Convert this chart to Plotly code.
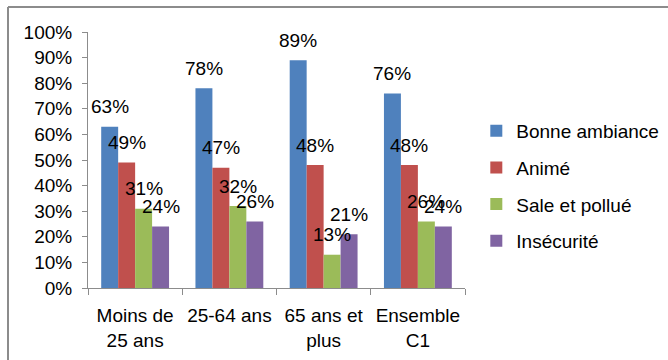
import plotly.graph_objects as go

categories = ["Moins de<br>25 ans", "25-64 ans", "65 ans et<br>plus", "Ensemble<br>C1"]
series_names = ["Bonne ambiance", "Animé", "Sale et pollué", "Insécurité"]
bonne_ambiance = [0.63, 0.78, 0.89, 0.76]
anime = [0.49, 0.47, 0.48, 0.48]
sale_pollue = [0.31, 0.32, 0.13, 0.26]
insecurite = [0.24, 0.26, 0.21, 0.24]
y_ticks = [0, 0.1, 0.2, 0.3, 0.4, 0.5, 0.6, 0.7, 0.8, 0.9, 1.0]
y_tick_labels = ["0%", "10%", "20%", "30%", "40%", "50%", "60%", "70%", "80%", "90%", "100%"]

values = [bonne_ambiance, anime, sale_pollue, insecurite]
colors = ["#4F81BD", "#C0504D", "#9BBB59", "#8064A2"]

W, H = 668, 360
ML, MR, MT, MB = 88, 203, 32, 72
BARGAP = 0.28
FONT = "Liberation Sans, Arial, sans-serif"
FS = 19

fig = go.Figure()
for i, (name, vals, col) in enumerate(zip(series_names, values, colors)):
    fig.add_trace(go.Bar(
        x=categories, y=vals, name=name, legendgroup=name,
        marker=dict(color=col, line=dict(width=0)),
    ))

plot_w = W - ML - MR
cat_w = plot_w / len(categories)
bar_w = cat_w * (1 - BARGAP) / len(series_names)
annotations = []
for i, vals in enumerate(values):
    for c, v in zip(categories, vals):
        annotations.append(dict(
            x=c, y=v, xref="x", yref="y", text=f"{round(v*100)}%",
            showarrow=False, xshift=(i - 1.5) * bar_w, yshift=20,
            font=dict(size=FS, color="#000000", family=FONT),
        ))

fig.update_layout(
    width=W, height=H,
    margin=dict(l=ML, r=MR, t=MT, b=MB, autoexpand=False),
    paper_bgcolor="white", plot_bgcolor="white",
    barmode="group", bargap=BARGAP, bargroupgap=0,
    font=dict(family=FONT, size=FS, color="#000000"),
    showlegend=True,
    legend=dict(
        x=1.03, xanchor="left", y=0.688, yanchor="top",
        font=dict(size=FS, family=FONT, color="#000000"),
        tracegroupgap=9, traceorder="grouped",
        bgcolor="rgba(0,0,0,0)", itemwidth=30,
    ),
    annotations=annotations,
    shapes=[
        dict(type="line", xref="paper", yref="paper",
             x0=(8 - ML) / plot_w, x1=(W - ML) / plot_w,
             y0=(H - MB - 7) / (H - MT - MB), y1=(H - MB - 7) / (H - MT - MB),
             line=dict(color="#8c8c8c", width=2)),
        dict(type="line", xref="paper", yref="paper",
             x0=(8 - ML) / plot_w, x1=(8 - ML) / plot_w,
             y0=(H - MB - 7) / (H - MT - MB), y1=-MB / (H - MT - MB),
             line=dict(color="#8c8c8c", width=2)),
    ],
)
fig.update_xaxes(
    showline=True, linecolor="#8c8c8c", linewidth=1,
    ticks="outside", tickson="boundaries", ticklen=6, tickcolor="#8c8c8c",
    ticklabelstandoff=10, tickangle=0, automargin=False,
    showgrid=False, tickfont=dict(size=FS, family=FONT, color="#000000"),
)
fig.update_yaxes(
    range=[0, 1], tickvals=y_ticks, ticktext=y_tick_labels,
    showline=True, linecolor="#8c8c8c", linewidth=1,
    ticks="outside", ticklen=5, tickcolor="#8c8c8c",
    ticklabelstandoff=6, automargin=False,
    showgrid=False, zeroline=False,
    tickfont=dict(size=FS, family=FONT, color="#000000"),
)
fig.write_html("out.html")
